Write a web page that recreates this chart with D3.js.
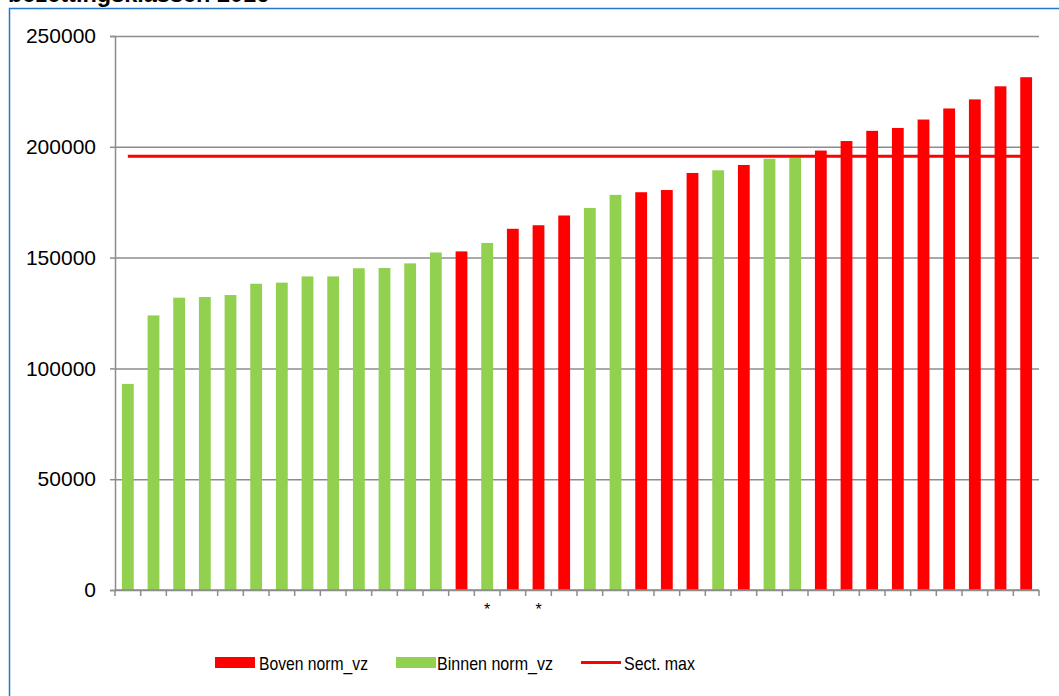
<!DOCTYPE html>
<html>
<head>
<meta charset="utf-8">
<script src="https://cdn.jsdelivr.net/npm/d3@7"></script>
<style>
  html, body { margin: 0; padding: 0; background: #fff; }
  svg { display: block; font-family: "Liberation Sans", Arial, sans-serif; }
</style>
</head>
<body>
<svg id="chart" width="1059" height="696"></svg>
<script>
// ---- data ----
const title = "bezettingsklassen 2016";
const categories = ["c1","c2","c3","c4","c5","c6","c7","c8","c9","c10","c11","c12",
  "c13","c14","c15","c16","c17","c18","c19","c20","c21","c22","c23","c24",
  "c25","c26","c27","c28","c29","c30","c31","c32","c33","c34","c35","c36"];
const categoryLabels = ["","","","","","","","","","","","",
  "","","*","","*","","","","","","","",
  "","","","","","","","","","","",""];
const boven = [null,null,null,null,null,null,null,null,null,null,null,null,
  null,152800,null,163000,164600,169000,null,null,179500,180500,188200,null,
  191800,null,null,198300,202600,207200,208500,212300,217300,221400,227300,231400];
const binnen = [93000,123900,131900,132200,133100,138200,138700,141500,141500,145200,145300,147400,
  152300,null,156600,null,null,null,172400,178300,null,null,null,189400,
  null,194600,195100,null,null,null,null,null,null,null,null,null];
const sectMax = 195700;
const yTicks = [0,50000,100000,150000,200000,250000];
const seriesNames = ["Boven norm_vz","Binnen norm_vz","Sect. max"];

// ---- chart ----
(function () {
const svg = d3.select("#chart");
const mLeft = 115, mRight = 1039, mTop = 36, mBottom = 590;
const RED = "#ff0000", GREEN = "#92d050", GRID = "#8c8c8c";

// frame + title
svg.append("rect").attr("x", 9.5).attr("y", 8.5).attr("width", 1060).attr("height", 700)
  .attr("fill", "none").attr("stroke", "#2478c8").attr("stroke-width", 1.5);
svg.append("text").attr("x", 8).attr("y", 1.5).attr("font-weight", "bold")
  .attr("font-size", 23.5).attr("fill", "#000").text(title);

const x = d3.scaleBand().domain(categories).range([mLeft, mRight])
  .paddingInner(0.54).paddingOuter(0.27);
const y = d3.scaleLinear().domain([0, 250000]).range([mBottom, mTop]);

// gridlines
svg.append("g").attr("transform", `translate(${mLeft},0)`)
  .call(d3.axisLeft(y).tickValues(yTicks).tickSize(-(mRight - mLeft)).tickFormat(""))
  .call(g => g.select(".domain").remove())
  .call(g => g.selectAll("line").attr("stroke", GRID).attr("stroke-width", 1.5));

// y axis
svg.append("g").attr("transform", `translate(${mLeft},0)`)
  .call(d3.axisLeft(y).tickValues(yTicks).tickSize(5).tickPadding(14).tickFormat(d3.format("d")))
  .call(g => g.select(".domain").attr("stroke", GRID).attr("stroke-width", 1.5))
  .call(g => g.selectAll("line").attr("stroke", GRID).attr("stroke-width", 1.5))
  .call(g => g.selectAll("text").attr("font-size", 21).attr("fill", "#000")
    .attr("font-family", "'Liberation Sans', Arial, sans-serif"));

// bars
const idx = d3.range(categories.length);
svg.append("g").selectAll("rect")
  .data(idx.filter(i => boven[i] != null)).join("rect")
  .attr("x", i => x(categories[i])).attr("width", x.bandwidth())
  .attr("y", i => y(boven[i])).attr("height", i => y(0) - y(boven[i]))
  .attr("fill", RED);
svg.append("g").selectAll("rect")
  .data(idx.filter(i => binnen[i] != null)).join("rect")
  .attr("x", i => x(categories[i])).attr("width", x.bandwidth())
  .attr("y", i => y(binnen[i])).attr("height", i => y(0) - y(binnen[i]))
  .attr("fill", GREEN);

// sect max line
const cx = c => x(c) + x.bandwidth() / 2;
svg.append("path")
  .datum(categories)
  .attr("d", d3.line().x(c => cx(c)).y(() => y(sectMax)))
  .attr("stroke", RED).attr("stroke-width", 3).attr("fill", "none");

// x axis line + boundary ticks
const step = x.step();
const boundaries = categories.map(c => x(c) - step * x.paddingOuter());
boundaries.push(mRight);
const xg = svg.append("g");
xg.append("line").attr("x1", mLeft).attr("x2", mRight).attr("y1", y(0)).attr("y2", y(0))
  .attr("stroke", GRID).attr("stroke-width", 1.5);
xg.selectAll("line.tick").data(boundaries).join("line")
  .attr("x1", d => d).attr("x2", d => d).attr("y1", y(0)).attr("y2", y(0) + 6)
  .attr("stroke", GRID).attr("stroke-width", 1.5);
svg.append("g").attr("transform", `translate(0,${y(0)})`)
  .call(d3.axisBottom(x).tickSize(0).tickPadding(14).tickFormat((c, i) => categoryLabels[i]))
  .call(g => g.select(".domain").remove())
  .call(g => g.selectAll("text").attr("font-size", 16).attr("fill", "#000")
    .attr("font-family", "'Liberation Sans', Arial, sans-serif"));

// legend
const lg = svg.append("g").attr("font-size", 19).attr("fill", "#000");
lg.append("rect").attr("x", 215).attr("y", 657).attr("width", 40).attr("height", 11).attr("fill", RED);
lg.append("text").attr("x", 259).attr("y", 669.5).attr("textLength", 109)
  .attr("lengthAdjust", "spacingAndGlyphs").text(seriesNames[0]);
lg.append("rect").attr("x", 396).attr("y", 657).attr("width", 40).attr("height", 11).attr("fill", GREEN);
lg.append("text").attr("x", 437).attr("y", 669.5).attr("textLength", 116)
  .attr("lengthAdjust", "spacingAndGlyphs").text(seriesNames[1]);
lg.append("line").attr("x1", 581).attr("x2", 621).attr("y1", 662.5).attr("y2", 662.5)
  .attr("stroke", RED).attr("stroke-width", 3);
lg.append("text").attr("x", 624).attr("y", 669.5).attr("textLength", 71)
  .attr("lengthAdjust", "spacingAndGlyphs").text(seriesNames[2]);
})();
</script>
</body>
</html>
